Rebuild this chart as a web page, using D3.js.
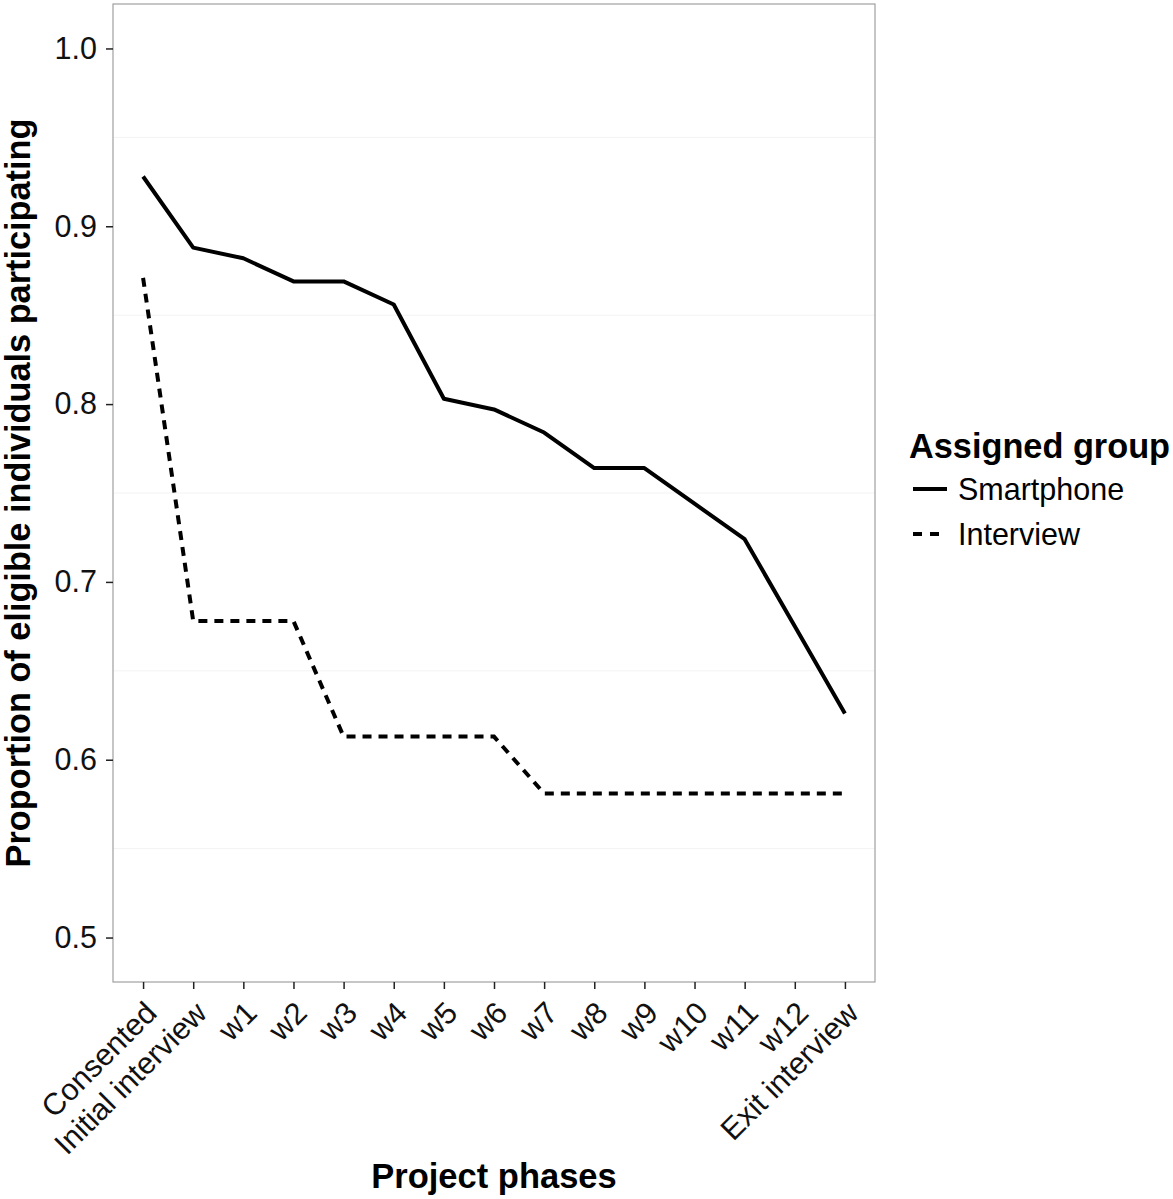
<!DOCTYPE html>
<html>
<head>
<meta charset="utf-8">
<script src="https://cdn.jsdelivr.net/npm/d3@7"></script>
<style>
  html, body { margin: 0; padding: 0; background: #fff; }
  text { font-family: "Liberation Sans", Arial, Helvetica, sans-serif; }
</style>
</head>
<body>
<svg id="chart" width="1173" height="1199"></svg>
<script>
const phases = ["Consented", "Initial interview", "w1", "w2", "w3", "w4", "w5", "w6", "w7", "w8", "w9", "w10", "w11", "w12", "Exit interview"];
const smartphone = [0.928, 0.888, 0.882, 0.869, 0.869, 0.856, 0.803, 0.797, 0.784, 0.764, 0.764, 0.744, 0.724, 0.675, 0.626];
const interview  = [0.871, 0.678, 0.678, 0.678, 0.613, 0.613, 0.613, 0.613, 0.581, 0.581, 0.581, 0.581, 0.581, 0.581, 0.581];
const yTicks = [0.5, 0.6, 0.7, 0.8, 0.9, 1.0];
const yMinor = [0.55, 0.65, 0.75, 0.85, 0.95];
const seriesNames = ["Smartphone", "Interview"];
const legendTitle = "Assigned group";
const xTitle = "Project phases";
const yTitle = "Proportion of eligible individuals participating";

const svg = d3.select("#chart");
const P = { left: 113, right: 875, top: 4, bottom: 982 };

const x = d3.scalePoint().domain(phases).range([P.left, P.right]).padding(0.6);
const y = d3.scaleLinear().domain([0.475, 1.025]).range([P.bottom, P.top]);

// minor gridlines
svg.append("g").selectAll("line").data(yMinor).join("line")
  .attr("x1", P.left).attr("x2", P.right)
  .attr("y1", d => y(d)).attr("y2", d => y(d))
  .attr("stroke", "#f3f3f3").attr("stroke-width", 1);

// lines
const line = d3.line().x((d, i) => x(phases[i])).y(d => y(d));
svg.append("path").datum(smartphone).attr("d", line)
  .attr("fill", "none").attr("stroke", "#000").attr("stroke-width", 4)
  .attr("stroke-linejoin", "round");
svg.append("path").datum(interview).attr("d", line)
  .attr("fill", "none").attr("stroke", "#000").attr("stroke-width", 4)
  .attr("stroke-dasharray", "9,7");

// panel border
svg.append("rect").attr("x", P.left).attr("y", P.top)
  .attr("width", P.right - P.left).attr("height", P.bottom - P.top)
  .attr("fill", "none").attr("stroke", "#a0a0a0").attr("stroke-width", 1.2);

// y axis
const yAxis = svg.append("g").attr("transform", `translate(${P.left},0)`)
  .call(d3.axisLeft(y).tickValues(yTicks).tickFormat(d3.format(".1f")).tickSize(7).tickPadding(9));
yAxis.select(".domain").remove();
yAxis.selectAll(".tick line").attr("stroke", "#222").attr("stroke-width", 1.5);
yAxis.selectAll(".tick text").attr("font-size", 30.5).attr("fill", "#111")
  .attr("font-family", "Liberation Sans, Arial, sans-serif");

// x axis
const xAxis = svg.append("g").attr("transform", `translate(0,${P.bottom})`)
  .call(d3.axisBottom(x).tickSize(7).tickPadding(0));
xAxis.select(".domain").remove();
xAxis.selectAll(".tick line").attr("stroke", "#222").attr("stroke-width", 1.5);
xAxis.selectAll(".tick text")
  .attr("font-size", 30.5).attr("fill", "#111")
  .attr("font-family", "Liberation Sans, Arial, sans-serif")
  .attr("text-anchor", "end")
  .attr("dy", null)
  .attr("y", null)
  .attr("transform", "translate(-1,17) rotate(-45)")
  .attr("dominant-baseline", "hanging");

// axis titles
svg.append("text").attr("x", (P.left + P.right) / 2).attr("y", 1188)
  .attr("text-anchor", "middle").attr("font-size", 34.5).attr("font-weight", "bold")
  .text(xTitle);
svg.append("text")
  .attr("transform", `translate(30,${(P.top + P.bottom) / 2}) rotate(-90)`)
  .attr("text-anchor", "middle").attr("font-size", 34.3).attr("font-weight", "bold")
  .text(yTitle);

// legend
const lg = svg.append("g");
lg.append("text").attr("x", 909).attr("y", 458).attr("font-size", 34.3).attr("font-weight", "bold")
  .text(legendTitle);
const dashes = [null, "9,8,9,30"];
seriesNames.forEach((name, i) => {
  const cy = 489 + i * 45;
  lg.append("line").attr("x1", 913).attr("x2", 947).attr("y1", cy).attr("y2", cy)
    .attr("stroke", "#000").attr("stroke-width", 4)
    .attr("stroke-dasharray", dashes[i]);
  lg.append("text").attr("x", 958).attr("y", cy).attr("dy", "0.36em")
    .attr("font-size", 30.5).text(name);
});
</script>
</body>
</html>
